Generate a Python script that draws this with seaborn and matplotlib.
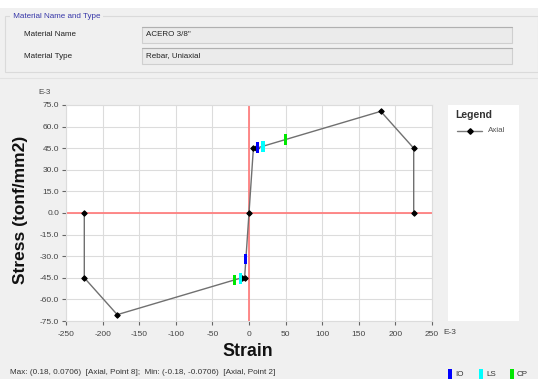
import matplotlib
matplotlib.use("Agg")
import matplotlib.pyplot as plt
from matplotlib.patches import Rectangle
import pandas as pd
import seaborn as sns

# Axial stress-strain curve (strain in E-3, stress in E-3 tonf/mm2)
strain = [-225, -225, -180, -10, -6, 0, 6, 10, 180, 225, 225]
stress = [0, -45, -70.6, -45, -45, 0, 45, 45, 70.6, 45, 0]

# Acceptance criteria along the curve
perf_level = ["IO", "LS", "CP", "IO", "LS", "CP"]
perf_strain = [12, 19, 50, -4.3, -12, -20]
perf_stress = [45.3, 46.4, 51.0, -32.0, -45.3, -46.5]
perf_colors = {"IO": "#0000ff", "LS": "#00ffff", "CP": "#00e600"}

x_ticks = [-250, -200, -150, -100, -50, 0, 50, 100, 150, 200, 250]
y_ticks = [-75, -60, -45, -30, -15, 0, 15, 30, 45, 60, 75]

group_title = "Material Name and Type"
field_labels = ["Material Name", "Material Type"]
field_values = ['ACERO 3/8"', "Rebar, Uniaxial"]
status_text = "Max: (0.18, 0.0706)  [Axial, Point 8];  Min: (-0.18, -0.0706)  [Axial, Point 2]"

sns.set_style("white")
plt.rcParams["font.family"] = ["Liberation Sans", "DejaVu Sans"]

W, H = 538, 379
BG = "#f0f0f0"
fig = plt.figure(figsize=(W / 100, H / 100), dpi=100, facecolor=BG)

# Pixel-space canvas for the dialog furniture
bg = fig.add_axes([0, 0, 1, 1], zorder=0)
bg.set_xlim(0, W)
bg.set_ylim(H, 0)
bg.axis("off")

bg.add_patch(Rectangle((0, 0), W, 8, facecolor="white", edgecolor="none"))
# group box
bg.add_patch(Rectangle((5, 16), W - 5, 56, facecolor="none", edgecolor="#dadada", lw=0.8))
bg.text(11, 16, " " + group_title + " ", color="#3636a8", fontsize=5.8,
        va="center", ha="left", bbox=dict(facecolor=BG, edgecolor="none", pad=0.5))
for i, (lab, val) in enumerate(zip(field_labels, field_values)):
    yc = 35 + i * 21
    bg.text(24, yc, lab, fontsize=5.8, color="#222222", va="center", ha="left")
    bg.add_patch(Rectangle((142, yc - 8), 370, 16, facecolor="#ebebeb",
                           edgecolor="#cfcfcf", lw=0.8))
    bg.plot([142, 512], [yc - 8, yc - 8], color="#b0b0b0", lw=0.8)
    bg.text(146, yc, val, fontsize=5.8, color="#222222", va="center", ha="left")
bg.plot([0, W], [78, 78], color="#e2e2e2", lw=0.8)

# axis labels and exponent notes
bg.text(21, 210, "Stress (tonf/mm2)", rotation=90, fontsize=12.5,
        fontweight="bold", color="#111111", va="center", ha="center")
bg.text(248, 352, "Strain", fontsize=12.8, fontweight="bold",
        color="#111111", va="center", ha="center")
bg.text(38, 93, "E-3", fontsize=5.8, color="#444444", va="center", ha="left")
bg.text(443, 333, "E-3", fontsize=6, color="#444444", va="center", ha="left")

# legend panel
bg.add_patch(Rectangle((448, 105), 71, 216, facecolor="white", edgecolor="none"))
bg.text(455, 115, "Legend", fontsize=7.5, fontweight="bold", color="#333333",
        va="center", ha="left")
bg.plot([457, 482], [131, 131], color="#7a7a7a", lw=1)
bg.plot([469.5], [131], marker="D", markersize=2.8, color="black")
bg.text(488, 131, "Axial", fontsize=5.8, color="#555555", va="center", ha="left")

# status line and acceptance key
bg.text(10, 373, status_text, fontsize=5.9, color="#333333", va="center", ha="left")
for k, (lvl, xk) in enumerate(zip(["IO", "LS", "CP"], [450, 481, 512])):
    bg.add_patch(Rectangle((xk - 2, 369), 4, 10, facecolor=perf_colors[lvl], edgecolor="none"))
    bg.text(xk + 5, 374, lvl, fontsize=5.8, color="#333333", va="center", ha="left")

# chart axes
ax = fig.add_axes([66 / W, 1 - 321 / H, 366 / W, 216 / H], zorder=1)
ax.set_facecolor("white")
ax.set_xlim(-250, 250)
ax.set_ylim(-75, 75)
ax.set_xticks(x_ticks)
ax.set_yticks(y_ticks)
ax.set_xticklabels([str(v) for v in x_ticks])
ax.set_yticklabels([f"{v:.1f}" for v in y_ticks])
ax.grid(True, color="#dcdcdc", lw=0.8)
ax.set_axisbelow(True)
for sp in ax.spines.values():
    sp.set_color("#dcdcdc")
    sp.set_linewidth(0.8)
ax.tick_params(axis="both", direction="out", length=3, width=0.8, color="#666666",
               labelsize=6, labelcolor="#444444", pad=2)
ax.tick_params(axis="x", pad=4)
ax.tick_params(axis="both", which="both", bottom=True, left=True)

ax.axhline(0, color="#ff8080", lw=1.3, zorder=2)
ax.axvline(0, color="#ff8080", lw=1.3, zorder=2)

curve = pd.DataFrame({"strain": strain, "stress": stress})
sns.lineplot(data=curve, x="strain", y="stress", sort=False, estimator=None,
             color="#707070", lw=1, marker="D", markersize=2.8,
             markerfacecolor="black", markeredgecolor="black", ax=ax, zorder=3)

perf = pd.DataFrame({"level": perf_level, "strain": perf_strain, "stress": perf_stress})
bar_marker = [(-0.3, -1), (0.3, -1), (0.3, 1), (-0.3, 1), (-0.3, -1)]
sns.scatterplot(data=perf, x="strain", y="stress", hue="level", palette=perf_colors,
                marker=bar_marker, s=60, linewidth=0, legend=False, ax=ax, zorder=4)
ax.set_xlabel("")
ax.set_ylabel("")

fig.savefig("out.png", dpi=100, facecolor=BG)
